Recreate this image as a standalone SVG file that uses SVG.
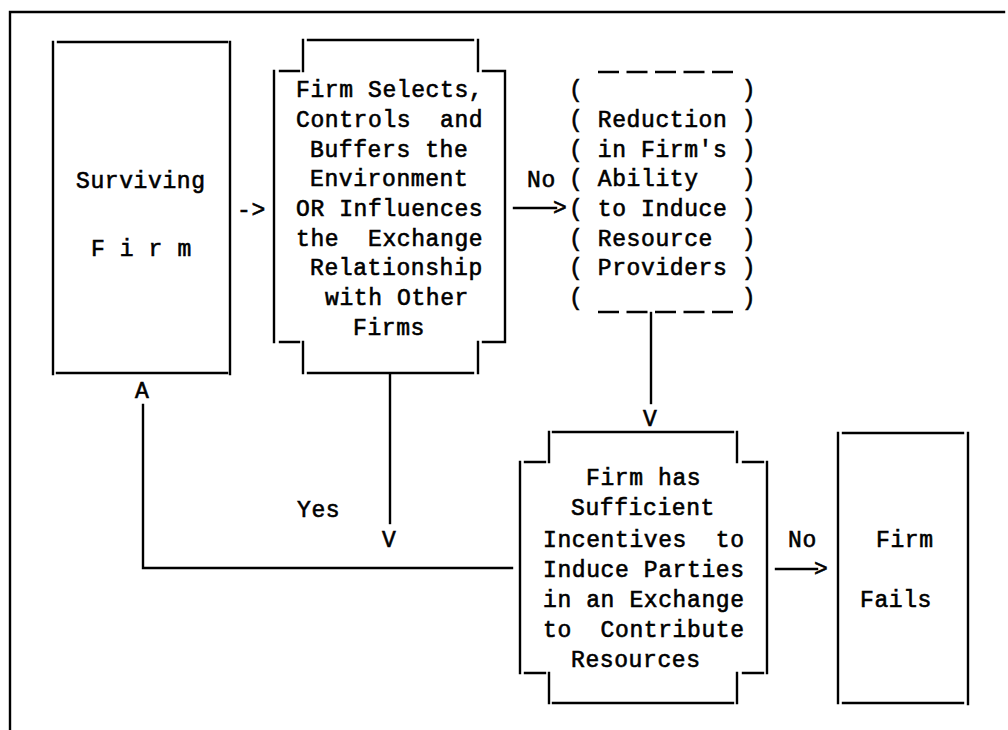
<svg xmlns="http://www.w3.org/2000/svg" width="1008" height="730" viewBox="0 0 1008 730">
  <style>
    .ln { stroke: #000; stroke-width: 2.4; fill: none; stroke-linecap: square; }
    .dash { stroke: #000; stroke-width: 2.4; fill: none; stroke-dasharray: 21 7.5; }
    .tt { font-family: "Liberation Mono", "DejaVu Sans Mono", monospace; font-size: 23px; letter-spacing: 0.6px; fill: #000; stroke: #000; stroke-width: 0.6; white-space: pre; }
  </style>
  <rect width="1008" height="730" fill="#fff"/>

  <!-- outer frame: left and top rules only -->
  <g id="frame">
    <path class="ln" d="M10 12 V730 M10 12 H1004"/>
  </g>

  <!-- plain box: Surviving Firm -->
  <g id="node-surviving">
    <path class="ln" d="M53 42 V374 M230 42 V374 M58 42 H227 M57 373 H227"/>
    <text class="tt" x="76" y="188">Surviving</text>
    <text class="tt" x="91" y="256">F i r m</text>
  </g>

  <!-- cross-shaped box: firm selects / influences -->
  <g id="node-select">
    <path class="ln" d="M308 40 H473 M303 40 V71 M478 40 V71 M280 71 H299 M483 71 H503 M274 71 V342 M505 71 V342 M280 342 H299 M483 342 H503 M303 342 V373 M478 342 V373 M308 373 H473"/>
    <text class="tt" x="296" y="97">Firm Selects,</text>
    <text class="tt" x="296" y="127">Controls  and</text>
    <text class="tt" x="310" y="157">Buffers the</text>
    <text class="tt" x="310" y="186">Environment</text>
    <text class="tt" x="296" y="216">OR Influences</text>
    <text class="tt" x="296" y="246">the  Exchange</text>
    <text class="tt" x="310" y="275">Relationship</text>
    <text class="tt" x="325" y="305">with Other</text>
    <text class="tt" x="353" y="335">Firms</text>
  </g>

  <!-- parenthesised dashed box: reduction in ability -->
  <g id="node-reduction">
    <path class="dash" d="M598 72 H733 M598 312 H733"/>
    <text class="tt" x="569" y="97">(           )</text>
    <text class="tt" x="569" y="127">( Reduction )</text>
    <text class="tt" x="569" y="157">( in Firm's )</text>
    <text class="tt" x="569" y="186">( Ability   )</text>
    <text class="tt" x="569" y="216">( to Induce )</text>
    <text class="tt" x="569" y="246">( Resource  )</text>
    <text class="tt" x="569" y="275">( Providers )</text>
    <text class="tt" x="569" y="305">(           )</text>
  </g>

  <!-- cross-shaped box: sufficient incentives -->
  <g id="node-incentives">
    <path class="ln" d="M553 432 H733 M549 432 V462 M737 432 V462 M525 462 H545 M743 462 H763 M520 462 V673 M767 462 V673 M525 673 H545 M743 673 H763 M549 673 V703 M737 673 V703 M553 703 H733"/>
    <text class="tt" x="586" y="485">Firm has</text>
    <text class="tt" x="571" y="515">Sufficient</text>
    <text class="tt" x="543" y="547">Incentives  to</text>
    <text class="tt" x="543" y="577">Induce Parties</text>
    <text class="tt" x="543" y="607">in an Exchange</text>
    <text class="tt" x="543" y="637">to  Contribute</text>
    <text class="tt" x="571" y="667">Resources</text>
  </g>

  <!-- plain box: Firm Fails -->
  <g id="node-fails">
    <path class="ln" d="M838 433 V703 M968 433 V704 M843 433 H963 M843 703 H963"/>
    <text class="tt" x="876" y="547">Firm</text>
    <text class="tt" x="860" y="607">Fails</text>
  </g>

  <!-- connectors with typed arrowheads and branch labels -->
  <g id="connectors">
    <text class="tt" x="237" y="217">-&gt;</text>

    <text class="tt" x="527" y="187">No</text>
    <path class="ln" d="M514 208 H556"/>
    <text class="tt" x="553" y="215">&gt;</text>

    <path class="ln" d="M651 313 V403"/>
    <text class="tt" x="643" y="426">V</text>

    <path class="ln" d="M390 374 V523"/>
    <text class="tt" x="382" y="547">V</text>
    <text class="tt" x="297" y="517">Yes</text>

    <path class="ln" d="M512 568 H143 V405"/>
    <text class="tt" x="135" y="398">A</text>

    <text class="tt" x="788" y="547">No</text>
    <path class="ln" d="M776 569 H817"/>
    <text class="tt" x="814" y="576">&gt;</text>
  </g>
</svg>
